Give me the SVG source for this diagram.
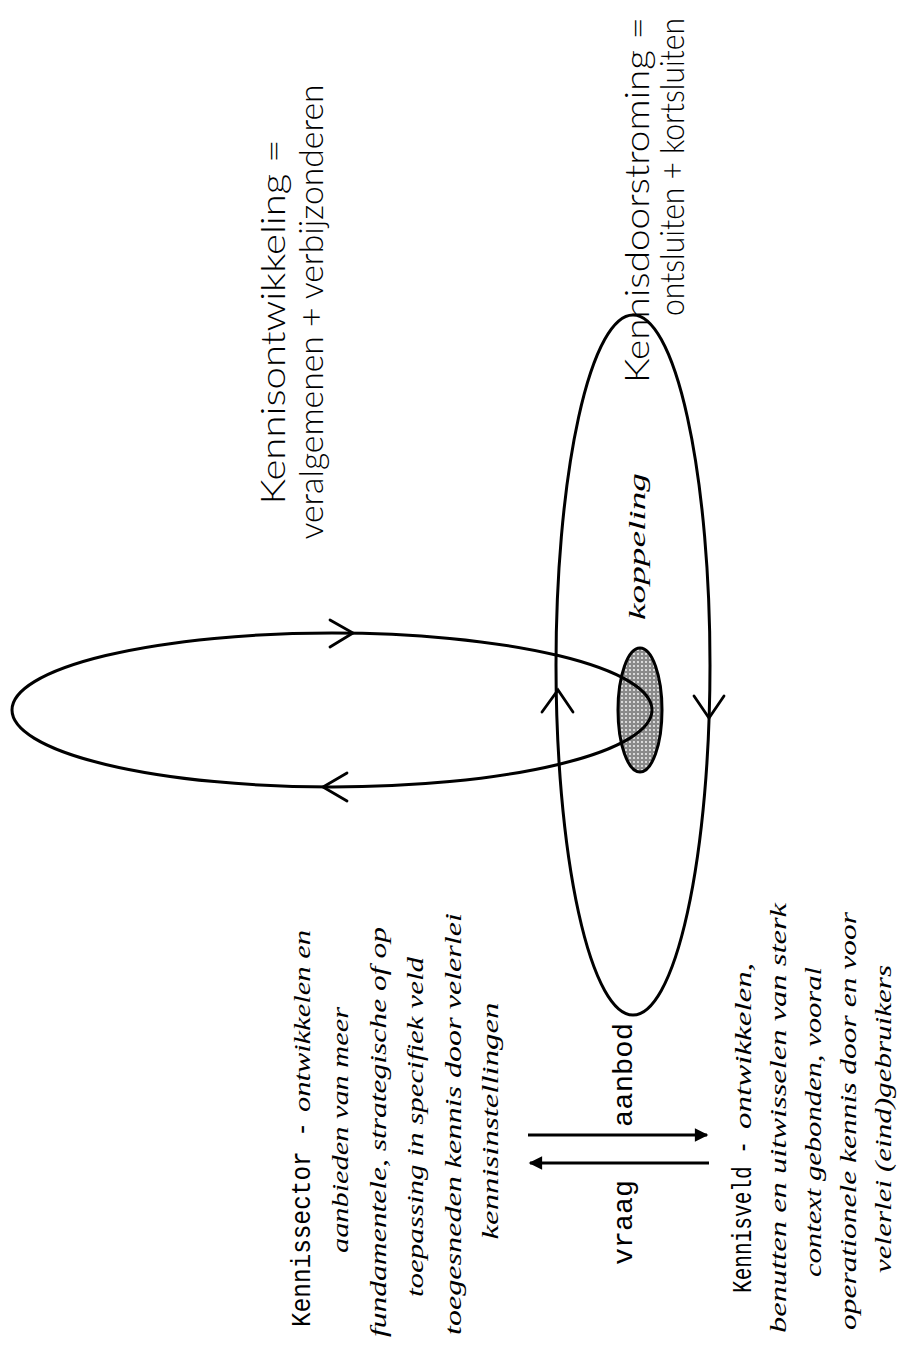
<svg xmlns="http://www.w3.org/2000/svg" width="908" height="1348" viewBox="0 0 908 1348">
<style>
.line{fill:none;stroke:#000;stroke-width:3}
.chev{fill:none;stroke:#000;stroke-width:2.8;stroke-linecap:round;stroke-linejoin:miter}
.arr{fill:none;stroke:#000;stroke-width:3}
.title{font-family:Lato,"Liberation Sans",Arial,sans-serif;font-weight:300;font-size:33px;fill:#000}
.mono{font-family:"Liberation Mono","Courier New",monospace;font-size:28px;fill:#000}
.ital{font-family:"Liberation Serif","Times New Roman",serif;font-style:italic;font-size:24px;fill:#000}
</style>
<defs>
<pattern id="dots" width="4" height="4" patternUnits="userSpaceOnUse">
<rect width="4" height="4" fill="#8a8a8a"/>
<circle cx="2" cy="2" r="0.9" fill="#fff"/>
</pattern>
<marker id="tri" viewBox="0 0 10 10" refX="9" refY="5" markerWidth="5" markerHeight="4.5" orient="auto" markerUnits="strokeWidth">
<path d="M0,0 L10,5 L0,10 z" fill="#000"/>
</marker>
</defs>
<rect width="908" height="1348" fill="#fff"/>

<g id="koppeling-kern">
<ellipse cx="640" cy="710" rx="22" ry="62" fill="url(#dots)" stroke="#000" stroke-width="3"/>
</g>

<g id="kennisontwikkeling-lus">
<ellipse class="line" cx="332" cy="710" rx="320" ry="77"/>
<path class="chev" d="M330,620 L353,633 L330,647"/>
<path class="chev" d="M347,773 L323,787 L347,801"/>
</g>

<g id="kennisdoorstroming-lus">
<ellipse class="line" cx="633" cy="665" rx="77" ry="350"/>
<path class="chev" d="M542,712 L558,690 L573,712"/>
<path class="chev" d="M694,696 L709,718 L724,696"/>
</g>

<g id="label-kennisontwikkeling">
<text class="title" transform="translate(285,322) rotate(-90)" text-anchor="middle" textLength="365" lengthAdjust="spacingAndGlyphs">Kennisontwikkeling =</text>
<text class="title" transform="translate(323,312) rotate(-90)" text-anchor="middle" textLength="455" lengthAdjust="spacingAndGlyphs">veralgemenen + verbijzonderen</text>
</g>

<g id="label-kennisdoorstroming">
<text class="title" transform="translate(649,383) rotate(-90)" textLength="366" lengthAdjust="spacingAndGlyphs">Kennisdoorstroming =</text>
<text class="title" transform="translate(684,316) rotate(-90)" textLength="298" lengthAdjust="spacingAndGlyphs">ontsluiten + kortsluiten</text>
</g>

<g id="label-koppeling">
<text class="ital" transform="translate(645,620) rotate(-90)" textLength="147" lengthAdjust="spacingAndGlyphs">koppeling</text>
</g>

<g id="kennissector">
<text class="mono" transform="translate(310,1327) rotate(-90)" textLength="205" lengthAdjust="spacingAndGlyphs">Kennissector -</text>
<text class="ital" transform="translate(310,930) rotate(-90)" text-anchor="end" textLength="182" lengthAdjust="spacingAndGlyphs">ontwikkelen en</text>
<text class="ital" transform="translate(348,1130) rotate(-90)" text-anchor="middle" textLength="246" lengthAdjust="spacingAndGlyphs">aanbieden van meer</text>
<text class="ital" transform="translate(386,1132) rotate(-90)" text-anchor="middle" textLength="410" lengthAdjust="spacingAndGlyphs">fundamentele, strategische of op</text>
<text class="ital" transform="translate(423,1127) rotate(-90)" text-anchor="middle" textLength="340" lengthAdjust="spacingAndGlyphs">toepassing in specifiek veld</text>
<text class="ital" transform="translate(461,1124) rotate(-90)" text-anchor="middle" textLength="422" lengthAdjust="spacingAndGlyphs">toegesneden kennis door velerlei</text>
<text class="ital" transform="translate(498,1121) rotate(-90)" text-anchor="middle" textLength="237" lengthAdjust="spacingAndGlyphs">kennisinstellingen</text>
</g>

<g id="kennisveld">
<text class="mono" transform="translate(751,1293) rotate(-90)" textLength="152" lengthAdjust="spacingAndGlyphs">Kennisveld -</text>
<text class="ital" transform="translate(751,963) rotate(-90)" text-anchor="end" textLength="166" lengthAdjust="spacingAndGlyphs">ontwikkelen,</text>
<text class="ital" transform="translate(786,1118) rotate(-90)" text-anchor="middle" textLength="430" lengthAdjust="spacingAndGlyphs">benutten en uitwisselen van sterk</text>
<text class="ital" transform="translate(821,1122) rotate(-90)" text-anchor="middle" textLength="310" lengthAdjust="spacingAndGlyphs">context gebonden, vooral</text>
<text class="ital" transform="translate(856,1121) rotate(-90)" text-anchor="middle" textLength="418" lengthAdjust="spacingAndGlyphs">operationele kennis door en voor</text>
<text class="ital" transform="translate(891,1119) rotate(-90)" text-anchor="middle" textLength="308" lengthAdjust="spacingAndGlyphs">velerlei (eind)gebruikers</text>
</g>

<g id="connectors">
<line class="arr" x1="528" y1="1135" x2="707" y2="1135" marker-end="url(#tri)"/>
<line class="arr" x1="709" y1="1163" x2="530" y2="1163" marker-end="url(#tri)"/>
</g>

<g id="labels-vraag-aanbod">
<text class="mono" transform="translate(632,1127) rotate(-90)" textLength="104" lengthAdjust="spacingAndGlyphs">aanbod</text>
<text class="mono" transform="translate(632,1265) rotate(-90)" textLength="85" lengthAdjust="spacingAndGlyphs">vraag</text>
</g>
</svg>
